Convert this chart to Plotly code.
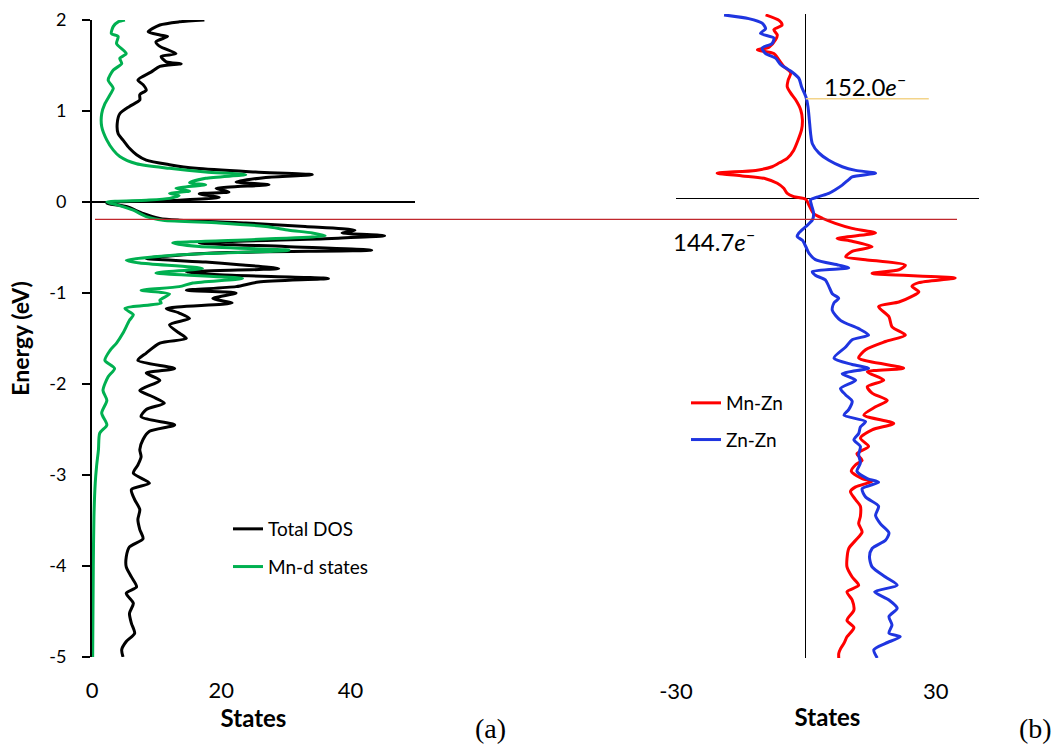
import plotly.graph_objects as go

# ---------------- data ----------------
# Panel (a): Total DOS
TOTAL_E = [2.00, 1.98, 1.945, 1.87, 1.835, 1.82, 1.76, 1.71, 1.63, 1.60, 1.54, 1.52, 1.49, 1.43, 1.34,
           1.29, 1.23, 1.18, 1.12, 1.05, 0.97, 0.86, 0.75, 0.68, 0.59, 0.52, 0.46, 0.41, 0.37, 0.33,
           0.30, 0.27, 0.22, 0.19, 0.15, 0.11, 0.09, 0.05, 0.02, 0.00, -0.015, -0.05, -0.125, -0.18,
           -0.20, -0.23, -0.27, -0.31, -0.34, -0.37, -0.40, -0.45, -0.49, -0.53, -0.56, -0.62, -0.66,
           -0.69, -0.73, -0.77, -0.80, -0.84, -0.88, -0.93, -0.97, -1.00, -1.06, -1.11, -1.17, -1.22,
           -1.28, -1.35, -1.44, -1.50, -1.55, -1.66, -1.74, -1.83, -1.88, -1.96, -2.07, -2.14, -2.21,
           -2.28, -2.36, -2.45, -2.52, -2.61, -2.72, -2.80, -2.89, -2.98, -3.09, -3.16, -3.27, -3.38,
           -3.49, -3.60, -3.70, -3.79, -3.90, -4.01, -4.12, -4.23, -4.30, -4.41, -4.52, -4.63, -4.74,
           -4.83, -4.92, -5.00]
TOTAL_S = [17.4, 13.5, 10.5, 8.7, 10.5, 11.7, 9.9, 10.5, 13.0, 10.7, 11.5, 13.8, 10.5, 9.2, 7.1,
           7.9, 8.4, 7.4, 7.4, 5.8, 4.3, 3.9, 4.05, 4.8, 5.8, 6.9, 8.4, 12.0, 16.1, 25.3,
           34.1, 26.9, 22.3, 27.4, 19.2, 21.2, 16.6, 19.7, 13.5, 3.3, 2.3, 5.3, 7.9, 10.5,
           13.5, 23.8, 33.0, 40.7, 38.7, 45.3, 37.1, 16.6, 29.9, 43.3, 18.7, 8.4, 17.6,
           22.8, 28.9, 14.6, 19.7, 36.6, 25.8, 22.3, 14.6, 22.3, 18.7, 21.7, 11.5, 13.5,
           15.1, 12.0, 13.5, 14.6, 10.5, 8.4, 7.1, 12.8, 8.4, 10.5, 7.4, 9.4, 11.2,
           8.4, 7.6, 12.8, 8.9, 7.9, 7.4, 7.6, 7.1, 6.4, 8.9, 6.1, 6.6, 7.4,
           7.1, 7.4, 7.9, 5.8, 5.3, 5.3, 6.1, 6.9, 5.3, 6.4, 5.8, 6.1, 6.6,
           5.3, 4.6, 4.8]

# Panel (a): Mn-d states
MND_E = [2.00, 1.98, 1.93, 1.85, 1.82, 1.74, 1.63, 1.58, 1.52, 1.45, 1.34, 1.25, 1.18, 1.08, 0.97,
         0.83, 0.68, 0.57, 0.50, 0.42, 0.37, 0.33, 0.30, 0.26, 0.21, 0.19, 0.15, 0.12, 0.095, 0.07,
         0.04, 0.02, 0.00, -0.03, -0.09, -0.16, -0.20, -0.23, -0.27, -0.31, -0.34, -0.37, -0.41,
         -0.45, -0.49, -0.53, -0.58, -0.64, -0.67, -0.73, -0.78, -0.84, -0.89, -0.93, -0.97, -1.01,
         -1.08, -1.11, -1.17, -1.24, -1.30, -1.44, -1.55, -1.63, -1.74, -1.83, -1.92, -2.07, -2.18,
         -2.32, -2.45, -2.54, -2.72, -2.91, -3.09, -3.46, -4.01, -5.00]
MND_S = [5.1, 4.05, 3.3, 3.0, 4.05, 3.8, 5.3, 4.3, 4.6, 3.3, 2.5, 3.3, 2.8, 2.0, 1.5,
         1.5, 2.3, 3.3, 4.3, 6.9, 12.0, 17.6, 23.8, 17.6, 15.1, 17.6, 13.0, 15.1, 12.0, 13.5,
         12.0, 8.4, 2.3, 3.8, 6.4, 8.4, 11.0, 19.7, 26.9, 30.5, 34.1, 36.1, 25.8,
         12.5, 16.6, 30.5, 13.5, 5.3, 7.4, 17.1, 9.9, 23.3, 15.6, 13.5, 7.6, 12.0,
         10.5, 10.7, 5.1, 6.4, 5.8, 4.8, 3.8, 2.8, 2.0, 3.5, 2.5, 1.7, 2.3,
         1.5, 2.3, 1.2, 1.0, 0.7, 0.5, 0.3, 0.2, 0.1]

# Panel (b): Mn-Zn
MNZN_E = [1.99, 1.93, 1.88, 1.83, 1.77, 1.72, 1.64, 1.61, 1.57, 1.50, 1.43, 1.36, 1.28, 1.21, 1.14,
          1.07, 0.96, 0.85, 0.74, 0.63, 0.52, 0.43, 0.38, 0.34, 0.30, 0.27, 0.24, 0.21, 0.16, 0.105,
          0.05, 0.015, -0.015, -0.076, -0.17, -0.22, -0.275, -0.33, -0.38, -0.44, -0.47, -0.53,
          -0.58, -0.64, -0.67, -0.73, -0.78, -0.82, -0.87, -0.92, -0.96, -1.02, -1.07, -1.13,
          -1.18, -1.29, -1.40, -1.49, -1.56, -1.65, -1.74, -1.85, -1.89, -1.98, -2.05, -2.12,
          -2.20, -2.27, -2.36, -2.45, -2.52, -2.61, -2.70, -2.78, -2.85, -2.90, -2.97, -3.05,
          -3.08, -3.14, -3.19, -3.28, -3.35, -3.46, -3.54, -3.63, -3.72, -3.81, -3.92, -4.01,
          -4.12, -4.21, -4.28, -4.37, -4.48, -4.59, -4.67, -4.77, -4.84, -4.90, -4.95, -5.00]
MNZN_S = [-9.3, -6.2, -5.5, -7.4, -6.6, -7.0, -8.5, -11.2, -7.4, -6.2, -5.1, -3.5, -4.1, -4.3, -3.5,
          -2.4, -1.2, -0.8, -1.0, -1.8, -2.8, -4.3, -6.2, -7.8, -11.6, -20.5, -14.7, -9.3, -6.6, -5.1,
          -4.3, -2.8, 0.0, 0.7, 1.8, 3.8, 6.8, 10.7, 16.1, 7.2, 10.7, 15.3,
          10.7, 9.2, 13.8, 23.0, 21.5, 15.3, 34.5, 26.1, 24.5, 26.1, 24.5, 21.5,
          16.8, 19.2, 19.9, 23.0, 18.4, 13.8, 12.2, 22.6, 14.2, 18.0, 14.2, 15.3,
          18.8, 16.1, 13.4, 20.3, 15.3, 12.6, 14.5, 11.8, 13.0, 11.5, 10.5, 13.0,
          15.3, 11.5, 10.3, 11.5, 12.6, 12.6, 12.2, 13.0, 11.5, 9.9, 9.5, 9.5,
          10.7, 12.2, 9.5, 10.7, 11.1, 9.5, 11.1, 9.5, 8.8, 8.0, 7.6, 7.6]

# Panel (b): Zn-Zn
ZNZN_E = [1.99, 1.95, 1.90, 1.84, 1.79, 1.74, 1.68, 1.63, 1.57, 1.52, 1.45, 1.37, 1.30, 1.21, 1.10,
          0.99, 0.85, 0.70, 0.59, 0.49, 0.41, 0.34, 0.30, 0.27, 0.23, 0.20, 0.14, 0.09, 0.05, 0.015,
          -0.02, -0.076, -0.17, -0.24, -0.31, -0.38, -0.42, -0.46, -0.53, -0.60, -0.67, -0.73,
          -0.76, -0.80, -0.84, -0.89, -0.96, -1.04, -1.09, -1.14, -1.22, -1.33, -1.42, -1.49,
          -1.54, -1.62, -1.74, -1.81, -1.85, -1.91, -1.98, -2.07, -2.14, -2.21, -2.30, -2.36,
          -2.43, -2.49, -2.56, -2.63, -2.70, -2.79, -2.88, -2.97, -3.05, -3.09, -3.16, -3.25,
          -3.35, -3.45, -3.54, -3.64, -3.72, -3.81, -3.90, -4.01, -4.12, -4.21, -4.28, -4.37,
          -4.46, -4.55, -4.64, -4.73, -4.77, -4.84, -4.91, -5.00]
ZNZN_S = [-18.9, -13.2, -10.1, -9.3, -10.5, -7.4, -7.8, -10.1, -9.3, -7.0, -5.8, -3.2, -1.6, -1.0, 0.0,
          0.5, 0.8, 1.1, 1.5, 3.0, 5.3, 8.4, 11.5, 16.1, 10.7, 9.9, 8.4, 6.8, 5.3, 3.0,
          1.1, 1.3, 1.8, 1.5, 0.0, -1.6, -2.0, -0.8, 0.0, 0.7, 2.2, 7.6,
          9.9, 1.5, 2.2, 4.5, 5.3, 6.1, 7.6, 6.5, 6.1, 8.0, 12.2, 14.5,
          10.7, 9.2, 6.5, 10.7, 14.5, 8.4, 11.5, 8.0, 9.2, 10.7, 9.9, 8.8,
          13.8, 12.6, 12.2, 11.1, 12.6, 12.2, 12.6, 11.8, 14.2, 16.8, 13.0, 13.8,
          16.8, 16.1, 17.2, 19.2, 18.4, 15.3, 14.7, 15.3, 18.4, 21.1, 15.9, 19.2,
          21.1, 19.2, 19.9, 19.2, 21.8, 18.4, 15.7, 16.5]

# axis ticks / ranges
Y_TICKS = [-5, -4, -3, -2, -1, 0, 1, 2]
Y_TICKTEXT = ["-5", "-4", "-3", "-2", "-1", "0", "1", "2"]
XA_TICKS = [0, 20, 40]
XA_TICKTEXT = ["0", "20", "40"]
XB_TICKS = [-30, 30]
XB_TICKTEXT = ["-30", "30"]

# reference levels
SHIFT_LEVEL_E = -0.19          # red line across both panels
CHARGE_LEVEL_E = 1.08          # yellow line in panel (b)
CHARGE_LEVEL_X = 28.4
LABEL_UPPER = "152.0<i>e</i><sup>–</sup>"
LABEL_LOWER = "144.7<i>e</i><sup>–</sup>"

FONT = "Lato"
W, H = 1055, 744

fig = go.Figure()
line_kw = dict(shape="spline", smoothing=0.7, width=3)
fig.add_trace(go.Scatter(x=TOTAL_S, y=TOTAL_E, mode="lines", name="Total DOS",
                         line=dict(color="#000000", **line_kw), xaxis="x", yaxis="y",
                         legend="legend", legendgroup="a1"))
fig.add_trace(go.Scatter(x=MND_S, y=MND_E, mode="lines", name="Mn-d states",
                         line=dict(color="#00B050", **line_kw), xaxis="x", yaxis="y",
                         legend="legend", legendgroup="a2"))
fig.add_trace(go.Scatter(x=MNZN_S, y=MNZN_E, mode="lines", name="Mn-Zn",
                         line=dict(color="#FF0000", **line_kw), xaxis="x2", yaxis="y2",
                         legend="legend2", legendgroup="b1"))
fig.add_trace(go.Scatter(x=ZNZN_S, y=ZNZN_E, mode="lines", name="Zn-Zn",
                         line=dict(color="#1F35E0", **line_kw), xaxis="x2", yaxis="y2",
                         legend="legend2", legendgroup="b2"))

def px(x):
    return x / W

def py(y):
    return 1 - y / H

tick_font = dict(family=FONT, size=22, color="#000000")
fig.update_layout(
    width=W, height=H,
    margin=dict(l=0, r=0, t=0, b=0),
    paper_bgcolor="white", plot_bgcolor="white",
    font=dict(family=FONT, color="#000000"),
    xaxis=dict(domain=[px(92), px(415)], range=[0, 50], tickvals=XA_TICKS, ticktext=XA_TICKTEXT,
               showgrid=False, zeroline=False, showline=False, ticks="",
               tickfont=tick_font, ticklabelstandoff=18, automargin=False,
               title=dict(text="<b>States</b>", font=dict(family=FONT, size=24), standoff=2),
               anchor="y"),
    yaxis=dict(domain=[py(657), py(20)], range=[-5, 2], tickvals=Y_TICKS, ticktext=Y_TICKTEXT,
               showgrid=False, zeroline=True, zerolinecolor="#000000", zerolinewidth=2,
               showline=True, linecolor="#000000", linewidth=2,
               ticks="outside", ticklen=8, tickwidth=2, tickcolor="#000000",
               tickfont=dict(family=FONT, size=18), ticklabelstandoff=12, automargin=False,
               title=dict(text="<b>Energy (eV)</b>", font=dict(family=FONT, size=23), standoff=13),
               anchor="x"),
    xaxis2=dict(domain=[px(676), px(979)], range=[-30, 40], tickvals=XB_TICKS, ticktext=XB_TICKTEXT,
                showgrid=False, zeroline=True, zerolinecolor="#000000", zerolinewidth=1,
                showline=False, ticks="", tickfont=tick_font, ticklabelstandoff=18,
                automargin=False,
                title=dict(text="<b>States</b>", font=dict(family=FONT, size=24), standoff=6),
                anchor="y2"),
    yaxis2=dict(domain=[py(658), py(14)], range=[-5, 2],
                showgrid=False, zeroline=True, zerolinecolor="#000000", zerolinewidth=1,
                showline=False, showticklabels=False, ticks="", automargin=False,
                anchor="x2"),
    legend=dict(x=px(228), y=py(510), xanchor="left", yanchor="top",
                bgcolor="rgba(0,0,0,0)", font=dict(family=FONT, size=19),
                tracegroupgap=10, itemwidth=30),
    legend2=dict(x=px(686), y=py(384), xanchor="left", yanchor="top",
                 bgcolor="rgba(0,0,0,0)", font=dict(family=FONT, size=19),
                 tracegroupgap=9, itemwidth=30),
    showlegend=True,
)

fig.add_shape(type="line", xref="paper", yref="y", x0=px(95), x1=px(957),
              y0=SHIFT_LEVEL_E, y1=SHIFT_LEVEL_E, line=dict(color="#C0282D", width=1.2))
fig.add_shape(type="line", xref="x2", yref="y2", x0=0, x1=CHARGE_LEVEL_X,
              y0=CHARGE_LEVEL_E, y1=CHARGE_LEVEL_E, line=dict(color="#F3D48A", width=1.5))

fig.add_annotation(x=3.7, y=1.23, xref="x2", yref="y2", text=LABEL_UPPER, showarrow=False,
                   xanchor="left", yanchor="middle", font=dict(family=FONT, size=24))
fig.add_annotation(x=px(671), y=py(240), xref="paper", yref="paper", text=LABEL_LOWER,
                   showarrow=False, xanchor="left", yanchor="middle",
                   font=dict(family=FONT, size=24))
fig.add_annotation(x=px(490), y=py(728), xref="paper", yref="paper", text="(a)", showarrow=False,
                   xanchor="center", yanchor="middle",
                   font=dict(family="Liberation Serif", size=28))
fig.add_annotation(x=px(1035), y=py(728), xref="paper", yref="paper", text="(b)", showarrow=False,
                   xanchor="center", yanchor="middle",
                   font=dict(family="Liberation Serif", size=28))

fig.write_html("out.html", config={"displayModeBar": False},
               post_script="document.body.style.margin='0';document.body.style.overflow='hidden';")
